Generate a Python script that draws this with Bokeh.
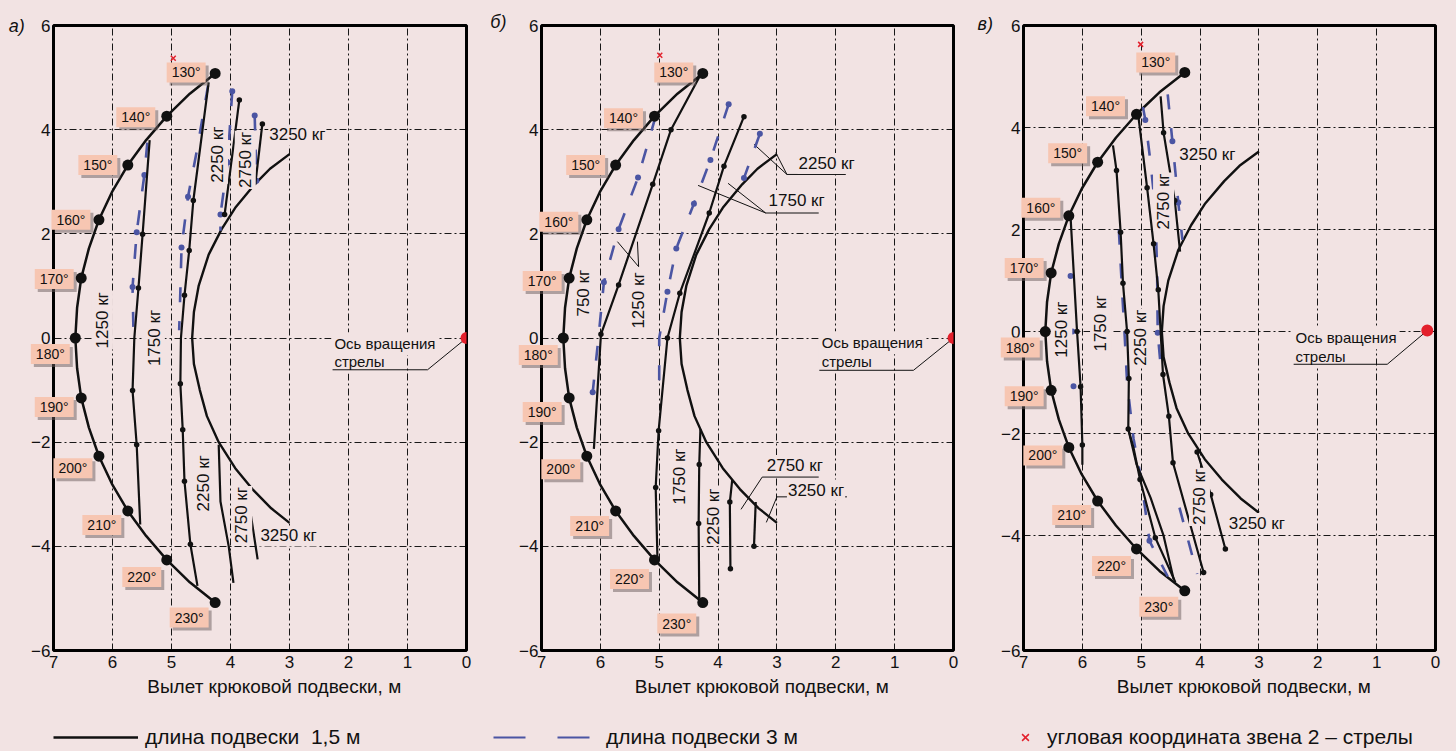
from bokeh.plotting import figure
from bokeh.models import ColumnDataSource, Legend, LegendItem, FixedTicker, Range1d
from bokeh.layouts import row, column
from bokeh.embed import file_html
from bokeh.resources import INLINE
from bokeh.core.properties import value

FONT = "Liberation Sans"
BG = "#f2e3e3"
INK = "#111111"
BLUE = "#4b55a3"
RED = "#e3202c"
PEACH = "#f7c6b2"

# ---------------- shared data ----------------
ARC_X = [4.26, 4.69, 5.08, 5.43, 5.74, 6.01, 6.23, 6.40, 6.53, 6.60, 6.63,
         6.60, 6.53, 6.40, 6.23, 6.01, 5.74, 5.43, 5.08, 4.69, 4.26]
ARC_Y = [5.08, 4.69, 4.26, 3.80, 3.32, 2.80, 2.27, 1.72, 1.15, 0.58, 0.00,
         -0.58, -1.15, -1.72, -2.27, -2.80, -3.32, -3.80, -4.26, -4.69, -5.08]
ANGLES = [130, 140, 150, 160, 170, 180, 190, 200, 210, 220, 230]
ANGLE_X = [4.26, 5.08, 5.74, 6.23, 6.53, 6.63, 6.53, 6.23, 5.74, 5.08, 4.26]
ANGLE_Y = [5.08, 4.26, 3.32, 2.27, 1.15, 0.00, -1.15, -2.27, -3.32, -4.26, -5.08]
ANGLE_DX = [-29, -31, -30, -28, -27, -25, -27, -26, -26, -25, -26]
ANGLE_DY_A = [-1, 1, 0, 0, 1, 16, 9, 12, 14, 17, 15]
ANGLE_DY_B = [-1, 2, 0, 2, 3, 17, 14, 13, 15, 19, 21]
ANGLE_DY_C = [-10, -8, -9, -8, -5, 16, 6, 8, 14, 17, 16]

INNER_X = [3.00, 3.33, 3.59, 3.92, 4.15, 4.37, 4.54, 4.62, 4.65, 4.62, 4.52,
           4.40, 4.20, 3.92, 3.63, 3.31, 3.00]
INNER_Y = [3.53, 3.25, 2.95, 2.50, 2.09, 1.60, 1.00, 0.50, 0.00, -0.50, -1.00,
           -1.50, -2.00, -2.50, -2.90, -3.27, -3.55]

X_TICKS = [0, 1, 2, 3, 4, 5, 6, 7]
Y_TICKS = [-6, -4, -2, 0, 2, 4, 6]
Y_TICKS_C = [-6.25, -4, -2, 0, 2, 4, 6]
AXIS_TITLE = "\u2003\u2002Вылет крюковой подвески, м"
PIVOT_TEXT = ["Ось вращения", "стрелы"]

# ---------------- panel а ----------------
A_S1_X = [5.37, 5.49, 5.56, 5.63, 5.66, 5.59, 5.53]
A_S1_Y = [3.80, 1.99, 0.96, 0.00, -1.01, -2.05, -3.58]
A_S1_D = [0, 1, 1, 0, 1, 1, 0]
A_S2_X = [4.37, 4.63, 4.70, 4.78, 4.84, 4.85, 4.81, 4.78, 4.68, 4.56]
A_S2_Y = [4.91, 2.64, 1.68, 0.82, 0.00, -0.88, -1.76, -2.75, -3.96, -4.76]
A_S2_D = [0, 1, 1, 1, 0, 1, 1, 1, 1, 0]
A_S3_X = [3.85, 4.10]
A_S3_Y = [4.57, 2.37]
A_S3_D = [1, 1]
A_S4_X = [3.46, 3.58]
A_S4_Y = [4.11, 2.95]
A_S4_D = [1, 0]
A_S5_X = [4.20, 4.17, 4.03, 3.95]
A_S5_Y = [-2.05, -3.14, -4.00, -4.70]
A_S5_D = [0, 0, 0, 0]
A_S6_X = [3.69, 3.69, 3.54]
A_S6_Y = [-2.93, -3.14, -4.25]
A_S6_D = [0, 0, 0]
A_D1_X = [5.41, 5.46, 5.59, 5.66, 5.64]
A_D1_Y = [3.75, 3.13, 2.03, 0.98, -0.14]
A_D1_D = [0, 1, 1, 1, 0]
A_D2_X = [4.38, 4.57, 4.72, 4.83, 4.85, 4.87]
A_D2_Y = [4.85, 3.60, 2.71, 1.74, 0.90, 0.15]
A_D2_D = [0, 0, 1, 1, 0, 0]
A_D3_X = [3.97, 4.05, 4.17, 4.17]
A_D3_Y = [4.74, 3.37, 2.37, 2.06]
A_D3_D = [1, 1, 1, 0]
A_D4_X = [3.59, 3.56]
A_D4_Y = [4.27, 3.02]
A_D4_D = [1, 1]
A_LBL_T = ["3250 кг", "2250 кг", "2750 кг", "1250 кг", "1750 кг", "2250 кг", "2750 кг", "3250 кг"]
A_LBL_X = [3.36, 4.22, 3.75, 6.17, 5.29, 4.46, 3.81, 3.51]
A_LBL_Y = [3.90, 3.52, 3.42, 0.34, 0.00, -2.79, -3.40, -3.80]
A_LBL_R = [0, 1, 1, 1, 1, 1, 1, 0]
A_CROSS = ([4.97], [5.37])
A_PIVOT = ([0.0], [0.0])
A_PIVOT_TX = [2.29, 2.29]
A_PIVOT_TY = [-0.11, -0.46]
A_LEAD_X = [2.27, 0.66, 0.0]
A_LEAD_Y = [-0.61, -0.61, 0.0]
A_LETTER = ("а)", 7.76, 6.0)

# ---------------- panel б ----------------
B_S1_X = [4.30, 4.80, 5.11, 5.69, 5.99, 6.11]
B_S1_Y = [5.05, 4.00, 2.95, 1.02, 0.07, -2.13]
B_S1_D = [0, 1, 1, 1, 1, 0]
B_S2_X = [3.56, 3.90, 4.15, 4.65, 4.86, 5.01, 5.06, 5.03]
B_S2_Y = [4.25, 3.30, 2.40, 0.86, 0.00, -1.78, -2.87, -4.23]
B_S2_D = [1, 1, 1, 1, 1, 1, 1, 0]
B_S3_X = [4.30, 4.32, 4.33, 4.32]
B_S3_Y = [-1.75, -2.43, -3.56, -4.99]
B_S3_D = [0, 1, 1, 0]
B_S4_X = [3.76, 3.80, 3.79]
B_S4_Y = [-2.73, -3.15, -4.43]
B_S4_D = [0, 1, 1]
B_S5_X = [3.36, 3.39]
B_S5_Y = [-3.15, -4.00]
B_S5_D = [0, 1]
B_D1_X = [5.06, 5.36, 5.69, 5.94, 6.03, 6.13]
B_D1_Y = [4.26, 3.08, 2.09, 1.07, 0.03, -1.04]
B_D1_D = [0, 1, 1, 1, 0, 1]
B_D2_X = [3.82, 4.13, 4.41, 4.71, 4.86, 5.00, 5.00]
B_D2_Y = [4.49, 3.42, 2.58, 1.72, 0.89, 0.00, -1.10]
B_D2_D = [1, 1, 1, 1, 1, 0, 0]
B_D3_X = [3.29, 3.56]
B_D3_Y = [3.92, 3.07]
B_D3_D = [1, 1]
B_LBL_T = ["2250 кг", "1750 кг", "1250 кг", "750 кг", "1750 кг", "2250 кг", "2750 кг", "3250 кг"]
B_LBL_X = [2.65, 3.16, 5.36, 6.28, 4.65, 4.08, 3.19, 2.83]
B_LBL_Y = [3.35, 2.64, 0.72, 0.86, -2.66, -3.43, -2.45, -2.92]
B_LBL_R = [0, 0, 1, 1, 1, 1, 0, 0]
B_LEADERS_X = [[1.83, 2.83, 3.39], [2.83, 3.02], [2.29, 3.19, 4.34], [3.19, 3.83],
               [5.35, 5.71], [5.35, 5.37], [2.29, 3.25, 3.61], [1.81, 3.00, 3.18]]
B_LEADERS_Y = [[3.14, 3.14, 3.72], [3.14, 3.56], [2.40, 2.40, 2.93], [2.40, 2.97],
               [1.37, 1.85], [1.37, 1.85], [-2.67, -2.67, -3.29], [-3.05, -3.05, -3.54]]
B_CROSS = ([4.99], [5.43])
B_PIVOT = ([0.0], [0.0])
B_PIVOT_TX = [2.29, 2.29]
B_PIVOT_TY = [-0.09, -0.45]
B_LEAD_X = [2.28, 0.68, 0.0]
B_LEAD_Y = [-0.62, -0.62, 0.0]
B_LETTER = ("б)", 7.87, 6.06)

# ---------------- panel в ----------------
C_S1_X = [6.20, 6.09, 6.03, 6.00, 6.00]
C_S1_Y = [2.24, 0.00, -1.08, -2.22, -2.61]
C_S1_D = [0, 1, 1, 1, 0]
C_S2_X = [5.48, 5.42, 5.35, 5.31, 5.24, 5.21, 5.22, 5.13, 5.02, 4.76, 4.42]
C_S2_Y = [3.65, 3.16, 1.95, 0.95, 0.00, -0.92, -1.91, -2.28, -2.90, -4.04, -4.91]
C_S2_D = [0, 1, 1, 1, 1, 1, 1, 0, 1, 1, 0]
C_S3_X = [5.22, 5.08, 4.84, 4.62, 4.45]
C_S3_Y = [-1.91, -2.60, -3.26, -4.00, -4.85]
C_S3_D = [0, 0, 0, 0, 0]
C_S4_X = [5.05, 4.90, 4.79, 4.71, 4.67, 4.63, 4.53, 4.46, 3.94]
C_S4_Y = [4.24, 2.82, 1.72, 0.82, 0.00, -0.84, -1.66, -2.57, -4.72]
C_S4_D = [0, 1, 1, 1, 0, 1, 1, 1, 1]
C_S5_X = [4.67, 4.62, 4.43, 4.34]
C_S5_Y = [4.61, 3.90, 2.57, 1.57]
C_S5_D = [0, 1, 1, 0]
C_S6_X = [4.05, 3.82, 3.57]
C_S6_Y = [-2.36, -3.19, -4.26]
C_S6_D = [1, 1, 1]
C_D2_X = [5.38, 5.33, 5.28, 5.24, 5.13, 5.00, 4.86, 4.55]
C_D2_Y = [2.00, 0.90, -0.10, -1.00, -2.10, -2.90, -4.10, -4.80]
C_D2_D = [0, 0, 0, 0, 0, 0, 1, 0]
C_D3_X = [4.97, 4.93, 4.84, 4.76, 4.73, 4.72, 4.66]
C_D3_Y = [4.40, 4.15, 3.30, 2.40, 1.20, -0.02, -0.80]
C_D3_D = [0, 1, 0, 0, 0, 1, 0]
C_D4_X = [4.35, 4.05]
C_D4_Y = [-3.45, -4.75]
C_D4_D = [0, 0]
C_D5_X = [4.55, 4.47, 4.37, 4.30]
C_D5_Y = [4.65, 3.73, 2.53, 1.80]
C_D5_D = [0, 1, 1, 0]
C_BDOT_X = [6.20, 6.17, 6.15]
C_BDOT_Y = [1.09, 0.00, -1.07]
C_LBL_T = ["1250 кг", "1750 кг", "2250 кг", "2750 кг", "3250 кг", "2750 кг", "3250 кг"]
C_LBL_X = [6.35, 5.69, 5.01, 4.62, 4.37, 4.01, 3.53]
C_LBL_Y = [0.04, 0.16, -0.12, 2.55, 3.47, -3.24, -3.76]
C_LBL_R = [1, 1, 1, 1, 0, 1, 0]
C_CROSS = ([5.01], [5.63])
C_PIVOT = ([0.14], [0.02])
C_PIVOT_TX = [2.43, 2.43]
C_PIVOT_TY = [-0.12, -0.49]
C_LEAD_X = [2.41, 0.82, 0.14]
C_LEAD_Y = [-0.64, -0.64, 0.02]
C_LETTER = ("в)", 7.78, 6.02)

LEGEND_A = "длина подвески  1,5 м"
LEGEND_B = "длина подвески 3 м"
LEGEND_C = "угловая координата звена 2 – стрелы"
# legend sample renderers sit outside the visible strip range
SAMPLE_X = [-40, -20]
SAMPLE_Y = [-40, -40]

TOP_H = 712
STRIP_H = 38


def make_fig(width, left, right, top, bottom, yr, yticks):
    p = figure(width=width, height=TOP_H, x_range=Range1d(7, 0), y_range=Range1d(*yr),
               output_backend="svg", toolbar_location=None,
               min_border_left=left, min_border_right=right,
               min_border_top=top, min_border_bottom=bottom)
    p.background_fill_color = BG
    p.border_fill_color = BG
    p.outline_line_color = "black"
    p.outline_line_width = 3
    p.xaxis.ticker = FixedTicker(ticks=X_TICKS)
    p.yaxis.ticker = FixedTicker(ticks=yticks)
    p.yaxis.major_label_overrides = {t: ("−%d" % round(-t) if t < 0 else str(t)) for t in yticks}
    for ax in (p.xaxis, p.yaxis):
        ax.axis_line_color = None
        ax.major_tick_line_color = None
        ax.minor_tick_line_color = None
        ax.major_tick_out = 0
        ax.major_tick_in = 0
        ax.major_label_text_font = FONT
        ax.major_label_text_font_size = "17px"
        ax.major_label_text_color = INK
    p.xaxis.major_label_standoff = 5
    p.yaxis.major_label_standoff = 3
    p.xaxis.axis_label = AXIS_TITLE
    p.xaxis.axis_label_text_font = FONT
    p.xaxis.axis_label_text_font_size = "19px"
    p.xaxis.axis_label_text_font_style = "normal"
    p.xaxis.axis_label_text_color = INK
    p.xaxis.axis_label_standoff = 5
    p.grid.grid_line_color = "black"
    p.grid.grid_line_width = 1
    p.grid.grid_line_dash = "7 3 2 3"
    p.grid.grid_line_alpha = 0.9
    return p


def draw_panel(p, letter, solids, dashes, lbl, dy, cross, pivot, ptx, pty, lead):
    p.line(ARC_X, ARC_Y, line_color=INK, line_width=2.5)
    p.line(INNER_X, INNER_Y, line_color=INK, line_width=2.4)
    for xs, ys, ds in dashes:
        p.line(xs, ys, line_color=BLUE, line_width=2.6, line_dash="15 19")
        px = [x for x, d in zip(xs, ds) if d]
        py = [y for y, d in zip(ys, ds) if d]
        if px:
            p.scatter(px, py, size=6, fill_color=BLUE, line_color=None)
    for xs, ys, ds in solids:
        p.line(xs, ys, line_color=INK, line_width=2.2)
        px = [x for x, d in zip(xs, ds) if d]
        py = [y for y, d in zip(ys, ds) if d]
        if px:
            p.scatter(px, py, size=5.5, fill_color=INK, line_color=None)
    # curve labels
    t, lx, ly, rot = lbl
    src = ColumnDataSource(dict(x=lx, y=ly, t=t,
                                a=[1.5708 if r else 0.0 for r in rot],
                                al=["center" if r else "left" for r in rot]))
    p.text("x", "y", text="t", angle="a", text_align="al", text_baseline="middle",
           source=src, text_font=value(FONT), text_font_size="17px", text_color=INK,
           background_fill_color=BG, padding=1)
    # rotation axis
    p.text(ptx, pty, text=PIVOT_TEXT, text_align="left", text_baseline="middle",
           text_font=value(FONT), text_font_size="15px", text_color=INK,
           background_fill_color=BG, padding=(3, 3))
    p.line(lead[0], lead[1], line_color=INK, line_width=1)
    p.scatter(pivot[0], pivot[1], size=12, fill_color=RED, line_color=None)
    p.scatter(cross[0], cross[1], marker="x", size=7, line_color=RED, line_width=1.5)
    # angle labels with shadow (drawn unclipped, over the frame like the original)
    asrc = ColumnDataSource(dict(x=ANGLE_X, y=ANGLE_Y, t=["%d°" % a for a in ANGLES],
                                 dx=ANGLE_DX, dy=dy,
                                 sx=[v + 3 for v in ANGLE_DX], sy=[v + 3 for v in dy]))
    p.text("x", "y", text="t", x_offset="sx", y_offset="sy", source=asrc,
           text_align="center", text_baseline="middle", text_font=value(FONT),
           text_font_size="14px", text_alpha=0, background_fill_color="#6a5c5c",
           background_fill_alpha=0.5, padding=(5, 2), level="overlay")
    p.text("x", "y", text="t", x_offset="dx", y_offset="dy", source=asrc,
           text_align="center", text_baseline="middle", text_font=value(FONT),
           text_font_size="14px", text_color=INK, background_fill_color=PEACH,
           padding=(5, 2), level="overlay")
    p.scatter(ANGLE_X, ANGLE_Y, size=11, fill_color=INK, line_color=None, level="overlay")
    # panel letter
    p.text([letter[1]], [letter[2]], text=[letter[0]], text_align="left", text_baseline="middle",
           text_font=value(FONT), text_font_size="18px", text_font_style="italic",
           text_color=INK, level="overlay")


# panel а
pa = make_fig(490, 53, 24, 22, TOP_H - 22 - 628, (-6, 6), Y_TICKS)
draw_panel(pa, A_LETTER,
           [(A_S1_X, A_S1_Y, A_S1_D), (A_S2_X, A_S2_Y, A_S2_D), (A_S3_X, A_S3_Y, A_S3_D),
            (A_S4_X, A_S4_Y, A_S4_D), (A_S5_X, A_S5_Y, A_S5_D), (A_S6_X, A_S6_Y, A_S6_D)],
           [(A_D1_X, A_D1_Y, A_D1_D), (A_D2_X, A_D2_Y, A_D2_D), (A_D3_X, A_D3_Y, A_D3_D),
            (A_D4_X, A_D4_Y, A_D4_D)],
           (A_LBL_T, A_LBL_X, A_LBL_Y, A_LBL_R), ANGLE_DY_A,
           A_CROSS, A_PIVOT, A_PIVOT_TX, A_PIVOT_TY, (A_LEAD_X, A_LEAD_Y))

# panel б
pb = make_fig(480, 51, 17, 24, TOP_H - 24 - 629, (-6, 6), Y_TICKS)
pb.multi_line(B_LEADERS_X, B_LEADERS_Y, line_color=INK, line_width=1)
draw_panel(pb, B_LETTER,
           [(B_S1_X, B_S1_Y, B_S1_D), (B_S2_X, B_S2_Y, B_S2_D), (B_S3_X, B_S3_Y, B_S3_D),
            (B_S4_X, B_S4_Y, B_S4_D), (B_S5_X, B_S5_Y, B_S5_D)],
           [(B_D1_X, B_D1_Y, B_D1_D), (B_D2_X, B_D2_Y, B_D2_D), (B_D3_X, B_D3_Y, B_D3_D)],
           (B_LBL_T, B_LBL_X, B_LBL_Y, B_LBL_R), ANGLE_DY_B,
           B_CROSS, B_PIVOT, B_PIVOT_TX, B_PIVOT_TY, (B_LEAD_X, B_LEAD_Y))

# panel в
pc = make_fig(486, 53, 21, 25, TOP_H - 25 - 629, (-6.25, 6), Y_TICKS_C)
pc.scatter(C_BDOT_X, C_BDOT_Y, size=6, fill_color=BLUE, line_color=None)
draw_panel(pc, C_LETTER,
           [(C_S1_X, C_S1_Y, C_S1_D), (C_S2_X, C_S2_Y, C_S2_D), (C_S3_X, C_S3_Y, C_S3_D),
            (C_S4_X, C_S4_Y, C_S4_D), (C_S5_X, C_S5_Y, C_S5_D), (C_S6_X, C_S6_Y, C_S6_D)],
           [(C_D2_X, C_D2_Y, C_D2_D), (C_D3_X, C_D3_Y, C_D3_D), (C_D4_X, C_D4_Y, C_D4_D),
            (C_D5_X, C_D5_Y, C_D5_D)],
           (C_LBL_T, C_LBL_X, C_LBL_Y, C_LBL_R), ANGLE_DY_C,
           C_CROSS, C_PIVOT, C_PIVOT_TX, C_PIVOT_TY, (C_LEAD_X, C_LEAD_Y))

# legend strip under the three panels
strip = figure(width=1456, height=STRIP_H, x_range=Range1d(0, 1456), y_range=Range1d(0, STRIP_H),
               output_backend="svg", toolbar_location=None, x_axis_type=None, y_axis_type=None,
               min_border_left=0, min_border_right=0, min_border_top=0, min_border_bottom=0)
strip.background_fill_color = BG
strip.border_fill_color = BG
strip.outline_line_color = None
strip.grid.visible = False
r_a = strip.line(SAMPLE_X, SAMPLE_Y, line_color=INK, line_width=2.5)
r_b = strip.line(SAMPLE_X, SAMPLE_Y, line_color=BLUE, line_width=2.2, line_dash="32 32")
r_c = strip.scatter(SAMPLE_X, SAMPLE_Y, marker="x", size=11, line_color=RED, line_width=1.5)
for lab, rend, loc, gw, gh, so in ((LEGEND_A, r_a, (53, 1), 85, 24, 7),
                                   (LEGEND_B, r_b, (493, 1), 97, 24, 16),
                                   (LEGEND_C, r_c, (1013, 1), 24, 24, 10)):
    strip.add_layout(Legend(items=[LegendItem(label=lab, renderers=[rend])], location=loc,
                            glyph_width=gw, glyph_height=gh, label_standoff=so, padding=0,
                            margin=0, spacing=0, border_line_alpha=0, background_fill_alpha=0,
                            label_text_font=FONT, label_text_font_size="21px",
                            label_text_color=INK, label_height=20))

layout = column(row(pa, pb, pc), strip)
html = file_html(layout, INLINE, "chart")
html = html.replace("</head>", "<style>body{background-color:%s;}</style></head>" % BG, 1)
open("out.html", "w").write(html)
